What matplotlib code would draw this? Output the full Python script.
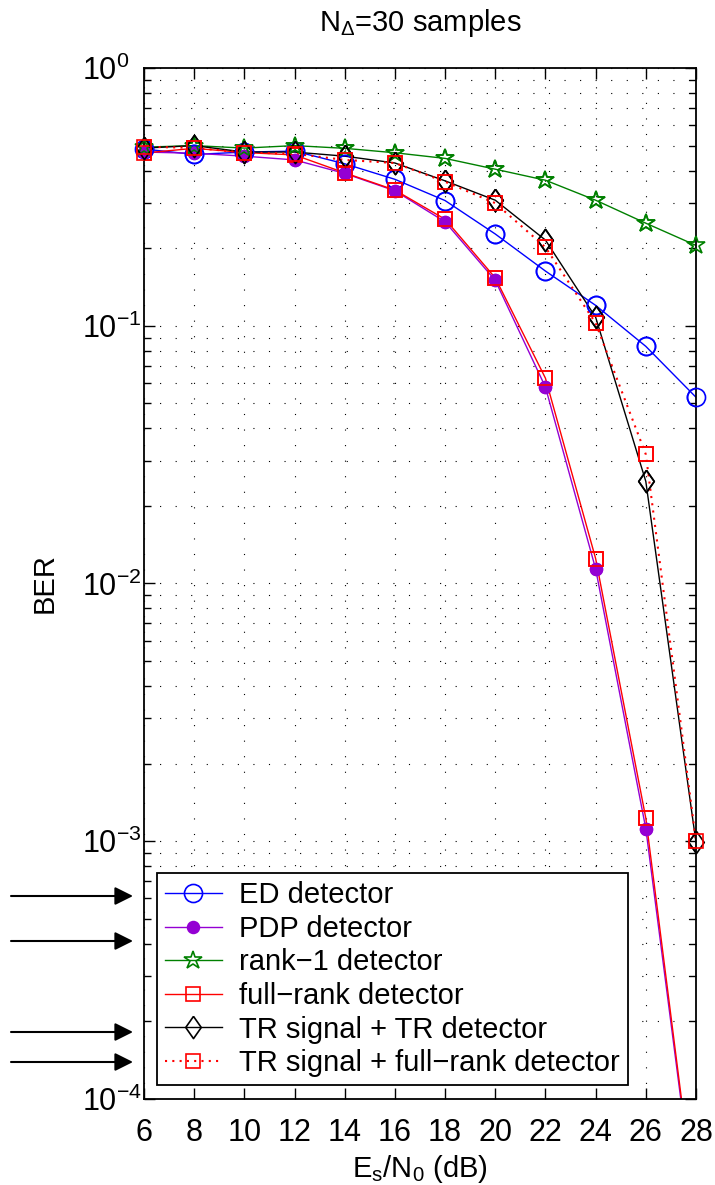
import matplotlib
matplotlib.use("Agg")
import matplotlib.pyplot as plt
from matplotlib.ticker import FixedLocator, LogLocator, NullFormatter

plt.rcParams["font.family"] = ["Liberation Sans", "DejaVu Sans"]
plt.rcParams["mathtext.fontset"] = "custom"
plt.rcParams["mathtext.rm"] = "Liberation Sans"
plt.rcParams["mathtext.it"] = "Liberation Sans:italic"
plt.rcParams["mathtext.bf"] = "Liberation Sans:bold"

# Es/N0 grid (dB) and simulated BER per detector
snr_db = [6, 8, 10, 12, 14, 16, 18, 20, 22, 24, 26, 28]
ber_ed = [0.485, 0.462, 0.472, 0.476, 0.425, 0.37, 0.306, 0.227, 0.163, 0.120, 0.0832, 0.0528]
ber_pdp = [0.472, 0.467, 0.455, 0.44, 0.39, 0.334, 0.253, 0.150, 0.0578, 0.0114, 0.00112, 3.5e-5]
ber_rank1 = [0.493, 0.5, 0.489, 0.5, 0.488, 0.469, 0.446, 0.405, 0.367, 0.307, 0.250, 0.205]
ber_full = [0.468, 0.488, 0.47, 0.46, 0.392, 0.336, 0.259, 0.1534, 0.0626, 0.0125, 0.00123, 3.6e-5]
ber_tr_tr = [0.489, 0.5, 0.472, 0.472, 0.455, 0.428, 0.365, 0.307, 0.215, 0.108, 0.0249, 0.00099]
ber_tr_full = [0.495, 0.49, 0.47, 0.465, 0.44, 0.428, 0.362, 0.299, 0.2016, 0.1025, 0.0317, 0.001]

labels = ["ED detector", "PDP detector", "rank\u22121 detector", "full\u2212rank detector",
          "TR signal + TR detector", "TR signal + full\u2212rank detector"]

y_ticks = [1e-4, 1e-3, 1e-2, 1e-1, 1e0]
y_ticklabels = [r"$10^{-4}$", r"$10^{-3}$", r"$10^{-2}$", r"$10^{-1}$", r"$10^{0}$"]

BLUE = "#0000ff"
PURPLE = "#9400d3"
GREEN = "#008000"
RED = "#ff0000"
FS = 21
YMIN, YMAX = 1e-4, 1.0

# MATLAB-style diamond, taller than wide
DIAMOND = [(0, 1), (0.7, 0), (0, -1), (-0.7, 0), (0, 1)]

fig = plt.figure(figsize=(7.15, 11.85), dpi=100)
ax = fig.add_axes([0.2014, 0.0726, 0.772, 0.870])


def curve(y, color, marker, ms, label, ls="-", lw=1.0, filled=False):
    inside = [i for i, v in enumerate(y) if YMIN <= v <= YMAX]
    style = dict(color=color, marker=marker, ms=ms, mec=color, mew=1.2,
                 mfc=color if filled else "none", markevery=inside)
    ax.plot(snr_db, y, ls=ls, lw=lw, label=label, **style)
    # markers again, unclipped, so the ones on the frame stay whole
    ax.plot(snr_db, y, ls="none", clip_on=False, zorder=3, **style)


curve(ber_ed, BLUE, "o", 13, labels[0])
curve(ber_pdp, PURPLE, "o", 8.5, labels[1], filled=True)
curve(ber_rank1, GREEN, "*", 13.5, labels[2])
curve(ber_full, RED, "s", 10.5, labels[3])
curve(ber_tr_tr, "k", DIAMOND, 16, labels[4])
curve(ber_tr_full, RED, "s", 10.5, labels[5], ls=(0, (1, 2.5)), lw=1.5)

ax.set_yscale("log")
ax.set_xlim(6, 28)
ax.set_ylim(YMIN, YMAX)
ax.xaxis.set_major_locator(FixedLocator(snr_db))
ax.set_yticks(y_ticks, y_ticklabels)
ax.yaxis.set_minor_locator(LogLocator(base=10, subs=range(2, 10), numticks=20))
ax.yaxis.set_minor_formatter(NullFormatter())

dot = (0, (1, 13))
ax.grid(True, which="major", axis="both", color="k", ls=dot, lw=0.8)
ax.grid(True, which="minor", axis="y", color="k", ls=dot, lw=0.8)

ax.tick_params(which="both", direction="in", top=True, right=True, width=1.0)
ax.tick_params(which="major", length=8, labelsize=22)
ax.tick_params(axis="x", which="major", pad=14)
ax.tick_params(axis="y", which="major", pad=44.6)
for lbl in ax.get_yticklabels():
    lbl.set_horizontalalignment("left")
ax.tick_params(which="minor", length=5)
for s in ax.spines.values():
    s.set_linewidth(1.3)

ax.set_title(r"N$_{\Delta}$=30 samples", fontsize=FS, pad=27)
ax.set_xlabel(r"E$_{\rm s}$/N$_0$ (dB)", fontsize=FS, labelpad=3)
ax.set_ylabel("BER", fontsize=FS)
ax.yaxis.set_label_coords(-0.154, 0.5)

leg = ax.legend(loc="lower left", bbox_to_anchor=(0.0236, 0.0136), borderaxespad=0,
                fontsize=FS, fancybox=False, framealpha=1, edgecolor="k",
                handlelength=1.95, handletextpad=0.6, labelspacing=0.19, borderpad=0.27)
leg.get_frame().set_linewidth(1.3)

# arrows in the left margin, positions in figure pixels (origin bottom-left)
H = 1185
for yp in (896, 941, 1032, 1062):
    ax.annotate("", xy=(133, H - yp), xytext=(11, H - yp), xycoords="figure pixels",
                textcoords="figure pixels", annotation_clip=False,
                arrowprops=dict(arrowstyle="-|>,head_length=1.1,head_width=0.55",
                                mutation_scale=10, color="k", lw=1.5,
                                shrinkA=0, shrinkB=0))

fig.savefig("out.png", dpi=100, facecolor="white")
